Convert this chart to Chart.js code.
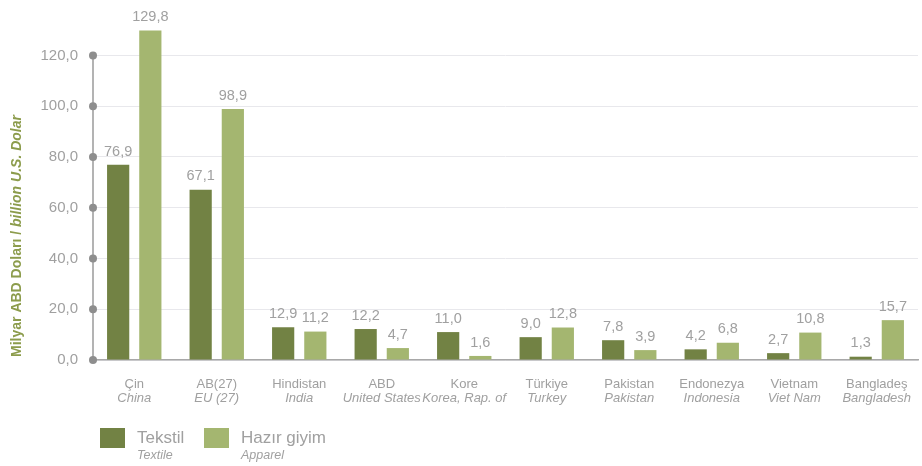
<!DOCTYPE html>
<html>
<head>
<meta charset="utf-8">
<script src="https://cdn.jsdelivr.net/npm/chart.js@4"></script>
<style>
  html, body { margin: 0; padding: 0; background: #fff; }
  #wrap { width: 922px; height: 466px; }
</style>
</head>
<body>
<div id="wrap"><canvas id="exportChart" width="922" height="466"></canvas></div>
<script>
// Countries (Turkish / English)
const labelsTr = ['Çin', 'AB(27)', 'Hindistan', 'ABD', 'Kore', 'Türkiye', 'Pakistan', 'Endonezya', 'Vietnam', 'Bangladeş'];
const labelsEn = ['China', 'EU (27)', 'India', 'United States', 'Korea, Rap. of', 'Turkey', 'Pakistan', 'Indonesia', 'Viet Nam', 'Bangladesh'];

// Billion USD
const textile = [76.9, 67.1, 12.9, 12.2, 11.0, 9.0, 7.8, 4.2, 2.7, 1.3];
const apparel = [129.8, 98.9, 11.2, 4.7, 1.6, 12.8, 3.9, 6.8, 10.8, 15.7];

const yTicks = [0, 20, 40, 60, 80, 100, 120];

const darkGreen = '#728244';
const lightGreen = '#a4b670';
const gray = '#a0a0a0';
const FONT = '"Liberation Sans", Arial, sans-serif';

const fmt = v => v.toFixed(1).replace('.', ',');

// Custom drawing: axis dots, value labels, 2-line category labels, legend, y title
const decorations = {
    id: 'decorations',
    afterDatasetsDraw(chart) {
        const ctx = chart.ctx;
        const y = chart.scales.y;
        const x = chart.scales.x;
        const area = chart.chartArea;

        // y axis line with dots
        ctx.save();
        ctx.strokeStyle = '#9a9a9a';
        ctx.lineWidth = 1.5;
        ctx.beginPath();
        ctx.moveTo(area.left, y.getPixelForValue(yTicks[yTicks.length - 1]));
        ctx.lineTo(area.left, y.getPixelForValue(0));
        ctx.stroke();
        ctx.fillStyle = '#8e8e8e';
        yTicks.forEach(t => {
            ctx.beginPath();
            ctx.arc(area.left, y.getPixelForValue(t), 4, 0, Math.PI * 2);
            ctx.fill();
        });

        // value labels
        ctx.fillStyle = gray;
        ctx.font = '14.5px ' + FONT;
        ctx.textAlign = 'center';
        ctx.textBaseline = 'bottom';
        chart.data.datasets.forEach((ds, di) => {
            chart.getDatasetMeta(di).data.forEach((bar, i) => {
                ctx.fillText(fmt(ds.data[i]), bar.x, bar.y - 6);
            });
        });

        // category labels
        ctx.textBaseline = 'middle';
        labelsTr.forEach((lab, i) => {
            const px = x.getPixelForValue(i);
            ctx.font = '13px ' + FONT;
            ctx.fillText(lab, px, 384);
            ctx.font = 'italic 13px ' + FONT;
            ctx.fillText(labelsEn[i], px, 398);
        });

        // legend
        const items = [
            { color: darkGreen, tr: 'Tekstil', en: 'Textile', x: 100 },
            { color: lightGreen, tr: 'Hazır giyim', en: 'Apparel', x: 204 }
        ];
        ctx.textAlign = 'left';
        items.forEach(it => {
            ctx.fillStyle = it.color;
            ctx.fillRect(it.x, 428, 25, 20);
            ctx.fillStyle = gray;
            ctx.font = '17px ' + FONT;
            ctx.fillText(it.tr, it.x + 37, 438);
            ctx.font = 'italic 12.5px ' + FONT;
            ctx.fillText(it.en, it.x + 37, 456);
        });

        // y axis title (rotated, mixed style)
        ctx.translate(17, 236);
        ctx.rotate(-Math.PI / 2);
        ctx.fillStyle = '#8c9c4c';
        const part1 = 'Milyar ABD Doları / ';
        const part2 = 'billion U.S. Dolar';
        ctx.font = 'bold 14px ' + FONT;
        const w1 = ctx.measureText(part1).width;
        ctx.font = 'italic bold 14px ' + FONT;
        const w2 = ctx.measureText(part2).width;
        const start = -(w1 + w2) / 2;
        ctx.font = 'bold 14px ' + FONT;
        ctx.fillText(part1, start, 0);
        ctx.font = 'italic bold 14px ' + FONT;
        ctx.fillText(part2, start + w1, 0);
        ctx.restore();
    }
};

new Chart(document.getElementById('exportChart'), {
    type: 'bar',
    data: {
        labels: labelsTr,
        datasets: [
            { label: 'Tekstil', data: textile, backgroundColor: darkGreen },
            { label: 'Hazır giyim', data: apparel, backgroundColor: lightGreen }
        ]
    },
    options: {
        responsive: false,
        animation: false,
        barPercentage: 0.69,
        categoryPercentage: 0.78,
        layout: { padding: { top: 30, right: 4, left: 0, bottom: 0 } },
        scales: {
            x: {
                ticks: { display: false },
                grid: { display: false },
                border: { color: '#a8a8a8', width: 1.5 },
                afterFit: scale => { scale.height = 106; }
            },
            y: {
                min: 0,
                max: 130,
                ticks: {
                    stepSize: 20,
                    padding: 15,
                    color: gray,
                    font: { family: FONT, size: 15 },
                    callback: value => fmt(value)
                },
                afterBuildTicks: scale => {
                    scale.ticks = scale.ticks.filter(t => yTicks.includes(t.value));
                },
                grid: { color: '#e8e8ec', drawTicks: false },
                border: { display: false },
                afterFit: scale => { scale.width = 93; }
            }
        },
        plugins: {
            legend: { display: false },
            tooltip: { enabled: false }
        }
    },
    plugins: [decorations]
});
</script>
</body>
</html>
